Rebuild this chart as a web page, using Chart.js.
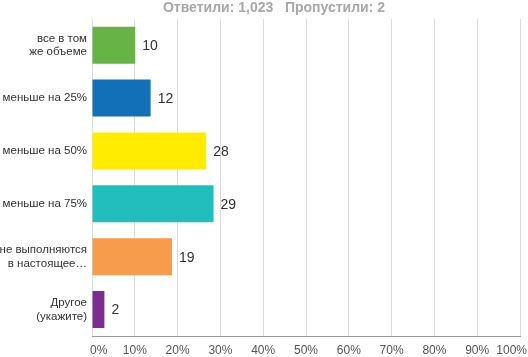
<!DOCTYPE html>
<html>
<head>
<meta charset="utf-8">
<script src="https://cdn.jsdelivr.net/npm/chart.js@4"></script>
<style>
  html, body { margin: 0; padding: 0; background: #fff; }
  #wrap { width: 528px; height: 357px; }
</style>
</head>
<body>
<div id="wrap"><canvas id="chart" width="528" height="357"></canvas></div>
<script>
const categories = [
  ["все в том", "же объеме"],
  "меньше на 25%",
  "меньше на 50%",
  "меньше на 75%",
  ["не выполняются", "в настоящее…"],
  ["Другое", "(укажите)"]
];
const barValues = [10.1, 13.7, 26.7, 28.4, 18.7, 2.9];
const shownLabels = ["10", "12", "28", "29", "19", "2"];
const barColors = ["#67b346", "#1170b8", "#ffec00", "#21bebd", "#f79b4c", "#7d2c92"];
const tickValues = [0, 10, 20, 30, 40, 50, 60, 70, 80, 90, 100];
const titleText = "Ответили: 1,023   Пропустили: 2";

const FONT = "Liberation Sans, Arial, sans-serif";

const headerPlugin = {
  id: "header",
  afterDraw(chart) {
    const ctx = chart.ctx;
    ctx.save();
    ctx.font = "bold 14px " + FONT;
    ctx.fillStyle = "#a8a8a8";
    ctx.textAlign = "center";
    ctx.textBaseline = "middle";
    ctx.fillText(titleText, 274, 8);
    ctx.restore();
  }
};

// x tick labels, kept inside the canvas like the original
const xTickLabels = {
  id: "xTickLabels",
  afterDraw(chart) {
    const ctx = chart.ctx;
    const xs = chart.scales.x;
    ctx.save();
    ctx.font = "12px " + FONT;
    ctx.fillStyle = "#555";
    ctx.textAlign = "left";
    ctx.textBaseline = "middle";
    tickValues.forEach(v => {
      const txt = v + "%";
      const w = ctx.measureText(txt).width;
      let left = xs.getPixelForValue(v) - w / 2;
      left = Math.max(chart.chartArea.left - 2, Math.min(left, chart.width - 1 - w));
      ctx.fillText(txt, left, xs.bottom - 6);
    });
    ctx.restore();
  }
};

const valueLabels = {
  id: "valueLabels",
  afterDatasetsDraw(chart) {
    const ctx = chart.ctx;
    const meta = chart.getDatasetMeta(0);
    ctx.save();
    ctx.font = "14px " + FONT;
    ctx.fillStyle = "#333";
    ctx.textAlign = "left";
    ctx.textBaseline = "middle";
    meta.data.forEach((bar, i) => {
      ctx.fillText(shownLabels[i], bar.x + 7, bar.y + 1);
    });
    ctx.restore();
  }
};

new Chart(document.getElementById("chart"), {
  type: "bar",
  data: {
    labels: categories,
    datasets: [{
      data: barValues,
      backgroundColor: barColors,
      borderWidth: 0,
      categoryPercentage: 0.7,
      barPercentage: 1.0
    }]
  },
  options: {
    indexAxis: "y",
    responsive: false,
    animation: false,
    layout: { padding: { top: 16, right: 8, left: 0, bottom: 0 } },
    plugins: {
      legend: { display: false },
      tooltip: { enabled: false }
    },
    scales: {
      x: {
        min: 0,
        max: 100,
        afterBuildTicks(axis) {
          axis.ticks = tickValues.map(v => ({ value: v }));
        },
        afterFit(axis) {
          axis.height = 21;
          axis.paddingLeft = 0;
          axis.paddingRight = 0;
        },
        grid: { color: "#dcdcdc", drawTicks: false, lineWidth: 1 },
        border: { display: true, color: "#9a9a9a" },
        ticks: { display: false }
      },
      y: {
        afterFit(axis) { axis.width = 92; },
        grid: { display: false, drawTicks: false },
        border: { display: false },
        ticks: {
          padding: 5,
          color: "#333",
          font: { family: FONT, size: 11.5 },
          autoSkip: false
        }
      }
    }
  },
  plugins: [headerPlugin, xTickLabels, valueLabels]
});
</script>
</body>
</html>
